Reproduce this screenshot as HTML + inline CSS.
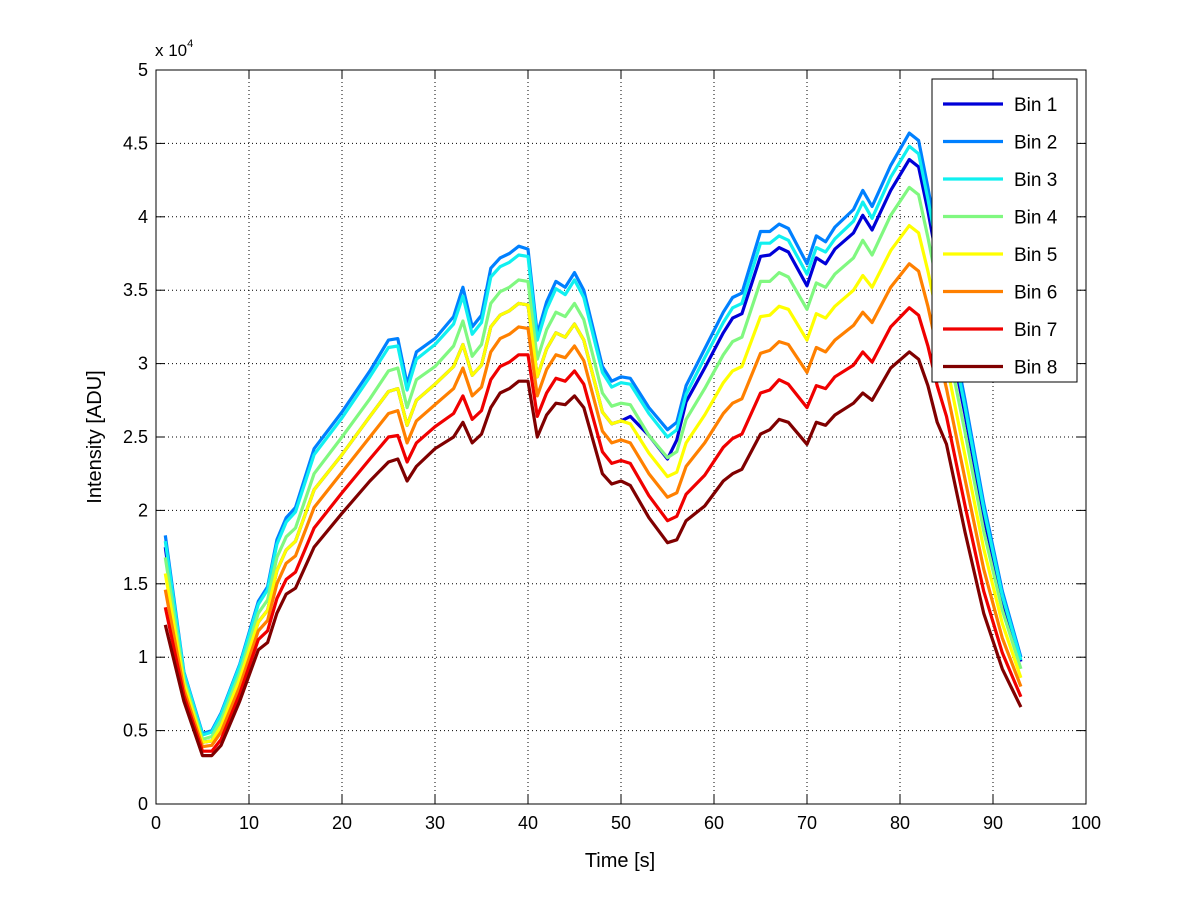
<!DOCTYPE html>
<html><head><meta charset="utf-8"><style>
html,body{margin:0;padding:0;background:#fff;}
svg{display:block;font-family:"Liberation Sans",sans-serif;}
</style></head><body>
<svg id="chart" width="1200" height="901" viewBox="0 0 1200 901" xmlns="http://www.w3.org/2000/svg">
<rect x="0" y="0" width="1200" height="901" fill="#fff"/>
<g id="grid"></g>
<g id="series"></g>
<g id="axes"></g>
<text x="155" y="56" font-size="17">x 10<tspan font-size="11" dy="-9">4</tspan></text>
<text x="620" y="867" font-size="20" text-anchor="middle">Time [s]</text>
<text transform="translate(101,437) rotate(-90)" font-size="20" text-anchor="middle">Intensity [ADU]</text>
<g id="legend"></g>
</svg>
<script>
const times = [1,3,5,6,7,9,11,12,13,14,15,17,20,23,25,26,27,28,30,32,33,34,35,36,37,38,39,40,41,42,43,44,45,46,48,49,50,51,53,55,56,57,59,61,62,63,65,66,67,68,70,71,72,73,75,76,77,79,81,82,83,84,85,87,89,91,93];
const bin1 = [1.75,.82,.42,.43,.53,.85,1.24,1.32,1.59,1.73,1.79,2.14,2.38,2.64,2.81,2.83,2.58,2.75,2.86,2.98,3.13,2.92,2.99,3.25,3.33,3.36,3.41,3.40,2.91,3.10,3.21,3.18,3.27,3.16,2.67,2.59,2.61,2.64,2.51,2.35,2.48,2.74,2.97,3.21,3.31,3.34,3.73,3.74,3.79,3.76,3.53,3.72,3.68,3.78,3.89,4.01,3.91,4.18,4.39,4.34,4.04,3.70,3.29,2.65,1.96,1.39,.97];
const bin2 = [1.83,.90,.48,.50,.62,.95,1.38,1.48,1.80,1.95,2.02,2.42,2.67,2.95,3.16,3.17,2.86,3.08,3.17,3.32,3.52,3.25,3.33,3.65,3.72,3.75,3.80,3.78,3.20,3.42,3.56,3.52,3.62,3.50,2.98,2.88,2.91,2.90,2.70,2.55,2.60,2.85,3.10,3.35,3.45,3.48,3.90,3.90,3.95,3.92,3.68,3.87,3.83,3.93,4.05,4.18,4.07,4.35,4.57,4.52,4.20,3.85,3.40,2.75,2.05,1.45,1.00];
const bin3 = [1.79,.89,.47,.49,.61,.94,1.36,1.46,1.77,1.92,1.99,2.38,2.63,2.91,3.11,3.12,2.82,3.03,3.13,3.27,3.46,3.20,3.28,3.59,3.66,3.69,3.74,3.73,3.16,3.37,3.51,3.47,3.57,3.45,2.94,2.84,2.87,2.86,2.66,2.50,2.55,2.79,3.04,3.28,3.38,3.41,3.82,3.82,3.87,3.84,3.61,3.79,3.76,3.85,3.97,4.10,3.99,4.27,4.48,4.43,4.12,3.78,3.34,2.70,2.01,1.42,.98];
const bin4 = [1.68,.85,.44,.46,.57,.89,1.30,1.39,1.68,1.82,1.88,2.25,2.50,2.76,2.95,2.97,2.70,2.89,2.98,3.12,3.29,3.05,3.13,3.41,3.49,3.52,3.57,3.56,3.03,3.23,3.35,3.32,3.41,3.30,2.80,2.71,2.73,2.72,2.51,2.36,2.40,2.62,2.83,3.06,3.15,3.18,3.56,3.56,3.62,3.59,3.37,3.55,3.52,3.61,3.72,3.84,3.74,4.01,4.20,4.15,3.86,3.54,3.16,2.53,1.86,1.32,.92];
const bin5 = [1.57,.82,.42,.43,.53,.85,1.24,1.32,1.59,1.73,1.79,2.14,2.38,2.64,2.81,2.83,2.58,2.75,2.86,2.98,3.13,2.92,2.99,3.25,3.33,3.36,3.41,3.40,2.91,3.10,3.21,3.18,3.27,3.16,2.67,2.59,2.61,2.59,2.39,2.23,2.26,2.46,2.65,2.87,2.95,2.98,3.32,3.33,3.39,3.37,3.16,3.34,3.31,3.39,3.50,3.60,3.52,3.77,3.94,3.89,3.63,3.33,3.00,2.37,1.74,1.23,.86];
const bin6 = [1.46,.78,.39,.40,.49,.80,1.18,1.25,1.50,1.64,1.69,2.02,2.26,2.50,2.66,2.68,2.46,2.61,2.72,2.83,2.97,2.78,2.84,3.08,3.17,3.20,3.25,3.24,2.78,2.96,3.06,3.04,3.12,3.02,2.54,2.46,2.48,2.46,2.25,2.09,2.12,2.30,2.46,2.66,2.73,2.76,3.07,3.09,3.15,3.13,2.94,3.11,3.08,3.16,3.26,3.35,3.28,3.52,3.68,3.63,3.39,3.10,2.83,2.21,1.60,1.13,.80];
const bin7 = [1.34,.74,.36,.36,.44,.75,1.12,1.18,1.40,1.53,1.58,1.88,2.12,2.35,2.50,2.51,2.33,2.46,2.57,2.66,2.78,2.62,2.68,2.89,2.98,3.01,3.06,3.06,2.64,2.80,2.90,2.88,2.95,2.86,2.40,2.32,2.34,2.32,2.10,1.93,1.96,2.11,2.24,2.43,2.49,2.52,2.80,2.82,2.89,2.86,2.70,2.85,2.83,2.91,2.99,3.08,3.01,3.25,3.38,3.33,3.12,2.85,2.64,2.03,1.45,1.03,.73];
const bin8 = [1.22,.70,.33,.33,.40,.70,1.05,1.10,1.30,1.43,1.47,1.75,1.98,2.20,2.33,2.35,2.20,2.30,2.42,2.50,2.60,2.46,2.52,2.70,2.80,2.83,2.88,2.88,2.50,2.65,2.73,2.72,2.78,2.70,2.25,2.18,2.20,2.17,1.95,1.78,1.80,1.93,2.03,2.20,2.25,2.28,2.52,2.55,2.62,2.60,2.45,2.60,2.58,2.65,2.73,2.80,2.75,2.97,3.08,3.03,2.85,2.60,2.45,1.85,1.30,.92,.66];
const seriesNames = ["Bin 1","Bin 2","Bin 3","Bin 4","Bin 5","Bin 6","Bin 7","Bin 8"];
const xTicks = [0,10,20,30,40,50,60,70,80,90,100];
const yTicks = [0,0.5,1,1.5,2,2.5,3,3.5,4,4.5,5];
const yTickLabels = ["0","0.5","1","1.5","2","2.5","3","3.5","4","4.5","5"];

const allSeries = [bin1,bin2,bin3,bin4,bin5,bin6,bin7,bin8];
const colors = ["#0000d8","#0080ff","#10f0f0","#80f880","#ffff00","#ff8000","#f00000","#800000"];
const L=156,R=1086,T=70,B=804;
const xs = v => L + (v-0)/(100-0)*(R-L);
const ys = v => B - (v-0)/(5-0)*(B-T);
const NS="http://www.w3.org/2000/svg";
function mk(tag, attrs, parent){const e=document.createElementNS(NS,tag);for(const k in attrs)e.setAttribute(k,attrs[k]);parent.appendChild(e);return e;}
const grid=document.getElementById('grid'), axes=document.getElementById('axes'), sg=document.getElementById('series'), lg=document.getElementById('legend');
xTicks.forEach((t,i)=>{
  const x=xs(t);
  if(i>0&&i<xTicks.length-1){const g=mk('line',{x1:x,x2:x,y1:T,y2:B,stroke:'#000','stroke-width':1,'stroke-dasharray':'1,3'},grid);
  
  }
  mk('line',{x1:x,x2:x,y1:B,y2:B-9,stroke:'#000'},axes);
  mk('line',{x1:x,x2:x,y1:T,y2:T+9,stroke:'#000'},axes);
  const lb=mk('text',{x:x,y:B+25,'font-size':18,'text-anchor':'middle'},axes);
  lb.textContent=t;
  
  
});
yTicks.forEach((t,i)=>{
  const y=ys(t);
  if(i>0&&i<yTicks.length-1){const g=mk('line',{x1:L,x2:R,y1:y,y2:y,stroke:'#000','stroke-width':1,'stroke-dasharray':'1,3'},grid);
  
  }
  mk('line',{x1:L,x2:L+9,y1:y,y2:y,stroke:'#000'},axes);
  mk('line',{x1:R,x2:R-9,y1:y,y2:y,stroke:'#000'},axes);
  const lb=mk('text',{x:L-8,y:y+6,'font-size':18,'text-anchor':'end'},axes);
  lb.textContent=yTickLabels[i];
  
  
});
const frame=mk('rect',{x:L,y:T,width:R-L,height:B-T,fill:'none',stroke:'#000','stroke-width':1},axes);


allSeries.forEach((s,i)=>{
  const d=s.map((v,j)=>(j?'L':'M')+xs(times[j]).toFixed(1)+','+ys(v).toFixed(1)).join(' ');
  const p=mk('path',{d:d,fill:'none',stroke:colors[i],'stroke-width':3.2,'stroke-linejoin':'round'},sg);
  
  
});
const box=mk('rect',{x:932,y:79,width:145,height:303,fill:'#fff',stroke:'#000','stroke-width':1},lg);


seriesNames.forEach((n,i)=>{
  const y=104+i*37.5;
  const g=mk('g',{},lg);
  
  
  mk('line',{x1:943,x2:1003,y1:y,y2:y,stroke:colors[i],'stroke-width':3.2},g);
  const t=mk('text',{x:1014,y:y+7,'font-size':19},g);
  t.textContent=n;
});
</script>
</body></html>
